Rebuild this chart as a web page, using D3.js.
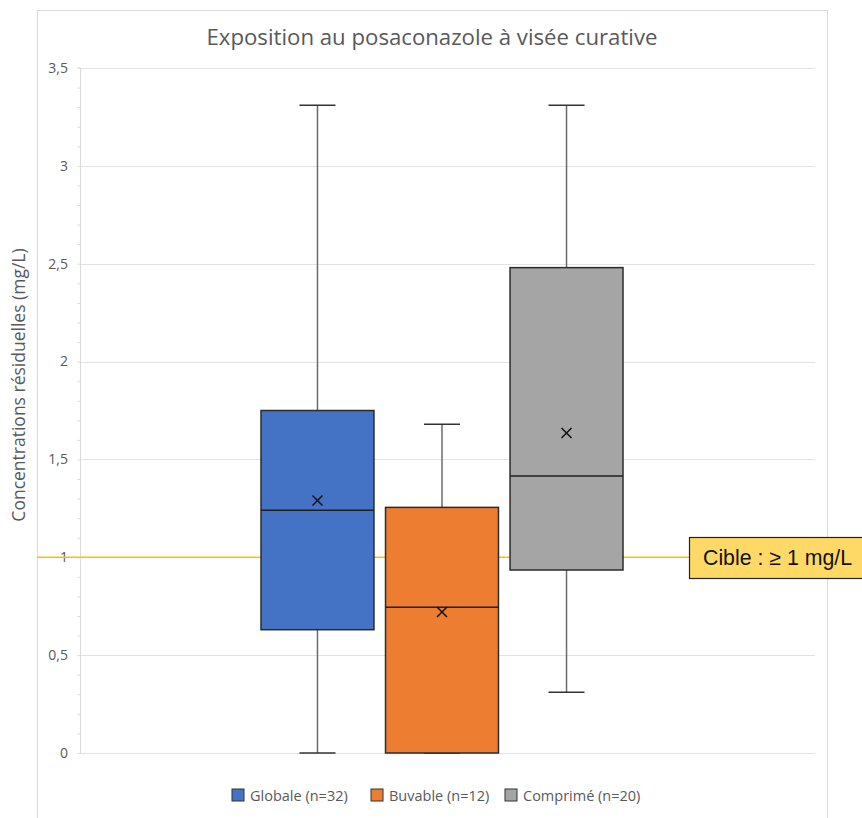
<!DOCTYPE html>
<html><head><meta charset="utf-8">
<script src="https://cdn.jsdelivr.net/npm/d3@7"></script>
<style>body{margin:0;background:#fff}svg{display:block}</style>
</head><body>
<svg id="c" width="862" height="818"></svg>
<script>
const categories = ["Globale (n=32)", "Buvable (n=12)", "Comprimé (n=20)"];
const mins    = [0.00, 0.00, 0.31];
const q1s     = [0.63, 0.00, 0.935];
const medians = [1.24, 0.745, 1.415];
const q3s     = [1.75, 1.255, 2.48];
const maxs    = [3.31, 1.68, 3.31];
const means   = [1.29, 0.72, 1.635];
const colors  = ["#4472C4", "#ED7D31", "#A5A5A5"];
const yTicks  = [0, 0.5, 1, 1.5, 2, 2.5, 3, 3.5];
const target  = 1;
const titleText = "Exposition au posaconazole à visée curative";
const yTitle = "Concentrations résiduelles (mg/L)";
const targetLabel = "Cible : ≥ 1 mg/L";

const svg = d3.select("#c");
const font = "'Open Sans', Lato, sans-serif";

// frame
svg.append("rect").attr("x", 37.5).attr("y", 10.5).attr("width", 790).attr("height", 820)
  .attr("fill", "none").attr("stroke", "#d9d9d9").attr("stroke-width", 1);

const y = d3.scaleLinear().domain([0, 3.5]).range([753, 68]);
const x = d3.scaleBand().domain(categories).range([261, 623]).paddingInner(0.093).paddingOuter(0);
// gridlines
svg.append("g").selectAll("line").data(yTicks.filter(d => d !== target)).join("line")
  .attr("x1", 80).attr("x2", 815).attr("y1", d => Math.round(y(d)) + 0.5).attr("y2", d => Math.round(y(d)) + 0.5)
  .attr("stroke", "#e3e3e3").attr("stroke-width", 1);
// axis with minor ticks
const minor = d3.range(0, 36).map(i => i / 10);
const yAxis = d3.axisLeft(y).tickValues(minor).tickSize(3).tickFormat("");
const ag = svg.append("g").attr("transform", "translate(80.5,0)").call(yAxis);
ag.selectAll("path,line").attr("stroke", "#d9d9d9");
ag.select(".domain").attr("d", `M-3,${y(3.5)}H0V${y(0)}H0`);
// tick labels
svg.append("g").selectAll("text").data(yTicks).join("text")
  .attr("x", 68).attr("y", d => y(d)).attr("dy", "0.35em").attr("text-anchor", "end")
  .attr("font-family", font).attr("font-size", 14).attr("fill", "#595959")
  .text(d => d3.format(".1~f")(d).replace(".", ","));

// y title
svg.append("text").attr("transform", `translate(25,${385}) rotate(-90)`).attr("text-anchor", "middle")
  .attr("font-family", font).attr("font-size", 17.5).attr("fill", "#595959").text(yTitle);
// title
svg.append("text").attr("x", 432).attr("y", 45).attr("text-anchor", "middle")
  .attr("font-family", font).attr("font-size", 22.2).attr("fill", "#595959").text(titleText);

// target line
const ty = y(target);
svg.append("line").attr("x1", 37).attr("x2", 690).attr("y1", ty).attr("y2", ty)
  .attr("stroke", "#FFC000").attr("stroke-width", 1.4);

// boxes
const boxes = svg.append("g").selectAll("g").data(categories).join("g");
boxes.each(function(c, i) {
  const g = d3.select(this);
  const x0 = x(c), w = x.bandwidth(), cx = x0 + w / 2;
  const cap = 18;
  g.append("line").attr("x1", cx).attr("x2", cx).attr("y1", y(maxs[i])).attr("y2", y(q3s[i])).attr("stroke", "#6b6b6b").attr("stroke-width", 1.5);
  g.append("line").attr("x1", cx).attr("x2", cx).attr("y1", y(mins[i])).attr("y2", y(q1s[i])).attr("stroke", "#6b6b6b").attr("stroke-width", 1.5);
  g.append("line").attr("x1", cx - cap).attr("x2", cx + cap).attr("y1", y(maxs[i])).attr("y2", y(maxs[i])).attr("stroke", "#333").attr("stroke-width", 1.5);
  g.append("line").attr("x1", cx - cap).attr("x2", cx + cap).attr("y1", y(mins[i])).attr("y2", y(mins[i])).attr("stroke", "#333").attr("stroke-width", 1.5);
  g.append("rect").attr("x", x0).attr("y", y(q3s[i])).attr("width", w).attr("height", y(q1s[i]) - y(q3s[i]))
    .attr("fill", colors[i]).attr("stroke", "#2b2b2b").attr("stroke-width", 1.5);
  g.append("line").attr("x1", x0).attr("x2", x0 + w).attr("y1", y(medians[i])).attr("y2", y(medians[i]))
    .attr("stroke", "#1f1f1f").attr("stroke-width", 1.5);
  const my = y(means[i]), s = 5;
  g.append("path").attr("d", `M${cx - s},${my - s}L${cx + s},${my + s}M${cx - s},${my + s}L${cx + s},${my - s}`)
    .attr("stroke", "#111").attr("stroke-width", 1.5).attr("fill", "none");
});

// target label
const lg = svg.append("g");
lg.append("rect").attr("x", 689.5).attr("y", 537.5).attr("width", 180).attr("height", 41)
  .attr("fill", "#FFD966").attr("stroke", "#222").attr("stroke-width", 1.2);
lg.append("text").attr("x", 703).attr("y", 565).attr("font-family", "'Liberation Sans', Arial, sans-serif")
  .attr("font-size", 21.3).attr("fill", "#111").text(targetLabel);

// legend
const legX = [232, 371, 505];
const leg = svg.append("g").selectAll("g").data(categories).join("g")
  .attr("transform", (d, i) => `translate(${legX[i]},789)`);
leg.append("rect").attr("width", 12).attr("height", 12).attr("fill", (d, i) => colors[i]).attr("stroke", "#333").attr("stroke-width", 1);
leg.append("text").attr("x", 18).attr("y", 11.5).attr("font-family", font).attr("font-size", 14.5).attr("fill", "#595959").text(d => d);
</script>
</body></html>
